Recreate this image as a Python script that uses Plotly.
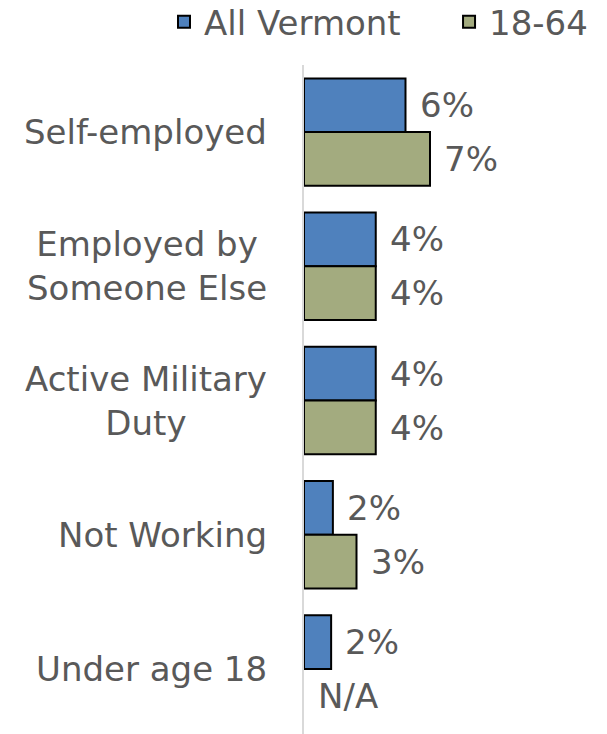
import plotly.graph_objects as go

categories = ["Self-employed", "Employed by<br>Someone Else", "Active Military<br>Duty", "Not Working", "Under age 18"]
all_vermont = [5.8, 4.1, 4.1, 1.65, 1.55]
age_18_64 = [7.2, 4.1, 4.1, 3.0, None]
all_vermont_labels = ["6%", "4%", "4%", "2%", "2%"]
age_18_64_labels = ["7%", "4%", "4%", "3%", "N/A"]
series_names = ["All Vermont", "18-64"]
colors = ["#4F81BD", "#A3AB7F"]

FONT = "DejaVu Sans"
TXT = "#595959"
FS = 34

fig = go.Figure()
for name, vals, col, lg in zip(series_names, [all_vermont, age_18_64], colors, ["legend", "legend2"]):
    fig.add_trace(go.Bar(
        y=categories, x=vals, name=name, orientation="h", legend=lg,
        marker=dict(color=col, line=dict(color="black", width=2)),
    ))

annotations = []
for vals, labels, shift in [(all_vermont, all_vermont_labels, 27), (age_18_64, age_18_64_labels, -27)]:
    for c, v, lab in zip(categories, vals, labels):
        annotations.append(dict(
            x=v if v is not None else 0, y=c, xref="x", yref="y",
            text=lab, showarrow=False, xanchor="left", yanchor="middle",
            xshift=12, yshift=shift,
            font=dict(family=FONT, size=FS, color=TXT),
        ))
for c in categories:
    annotations.append(dict(
        x=0, y=c, xref="x", yref="y", text=c, showarrow=False,
        xanchor="right", yanchor="middle", align="center", xshift=-35,
        font=dict(family=FONT, size=FS, color=TXT),
    ))

leg_common = dict(orientation="h", yanchor="middle", xanchor="left",
                  font=dict(family=FONT, size=FS, color=TXT), bgcolor="rgba(0,0,0,0)")
fig.update_layout(
    width=607, height=734,
    margin=dict(l=296, r=31, t=57, b=6, autoexpand=False),
    paper_bgcolor="white", plot_bgcolor="white",
    barmode="group", bargap=0.2, bargroupgap=0,
    font=dict(family=FONT, size=FS, color=TXT),
    showlegend=True,
    legend=dict(x=-0.5, y=1.064, **leg_common),
    legend2=dict(x=0.518, y=1.064, **leg_common),
    annotations=annotations,
    xaxis=dict(range=[0, 16], visible=False, fixedrange=True),
    yaxis=dict(autorange="reversed", showticklabels=False, ticks="",
               showline=True, linecolor="#D9D9D9", linewidth=2, showgrid=False, zeroline=False),
)

fig.write_html("out.html")
